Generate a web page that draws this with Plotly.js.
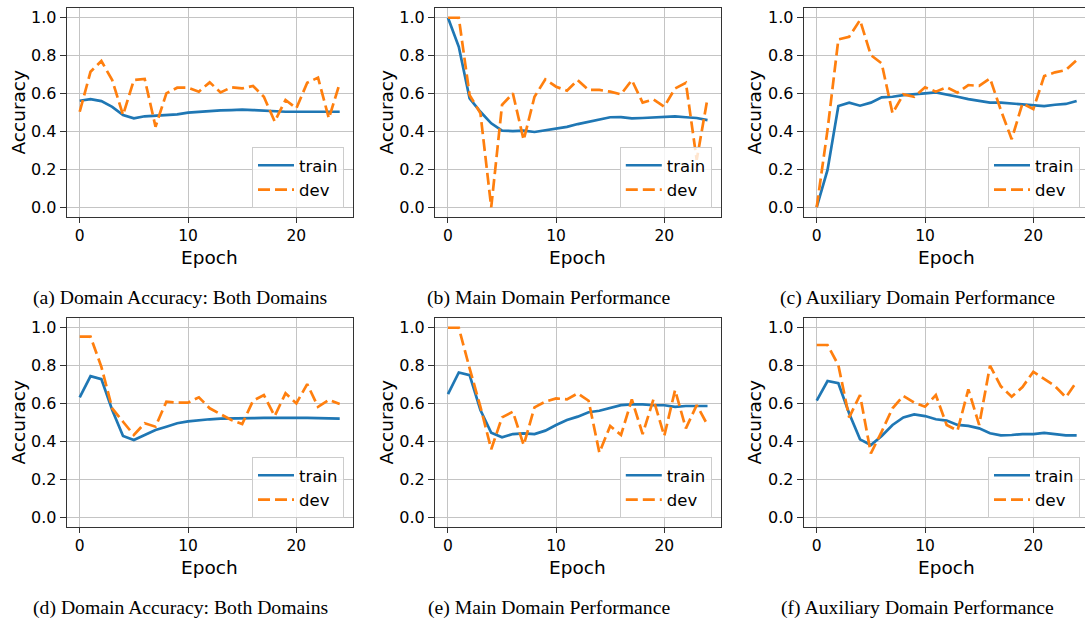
<!DOCTYPE html>
<html>
<head>
<meta charset="utf-8">
<script src="https://cdn.plot.ly/plotly-3.0.1.min.js"></script>
<style>
  html, body { margin: 0; padding: 0; background: #fff; overflow: hidden; }
  #chart { width: 1085px; height: 619px; }
</style>
</head>
<body>
<div id="chart"></div>
<script>
// ---------------- data ----------------
const epochs = [0,1,2,3,4,5,6,7,8,9,10,11,12,13,14,15,16,17,18,19,20,21,22,23,24];

const yTickVals = [0, 0.2, 0.4, 0.6, 0.8, 1.0];
const yTickText = ["0.0", "0.2", "0.4", "0.6", "0.8", "1.0"];
const xTickVals = [0, 10, 20];
const xTickText = ["0", "10", "20"];

const seriesNames = ["train", "dev"];

const captions = [
  "(a) Domain Accuracy: Both Domains",
  "(b) Main Domain Performance",
  "(c) Auxiliary Domain Performance",
  "(d) Domain Accuracy: Both Domains",
  "(e) Main Domain Performance",
  "(f) Auxiliary Domain Performance"
];

// (a) Domain Accuracy: Both Domains (top)
const trainA = [0.562,0.571,0.560,0.530,0.487,0.469,0.480,0.483,0.485,0.490,0.499,0.504,0.508,0.511,0.513,0.515,0.513,0.510,0.506,0.504,0.504,0.504,0.504,0.504,0.504];
const devA   = [0.504,0.715,0.772,0.671,0.487,0.671,0.677,0.425,0.601,0.631,0.631,0.610,0.659,0.606,0.633,0.627,0.640,0.583,0.452,0.566,0.522,0.657,0.684,0.469,0.654];

// (b) Main Domain Performance (top)
const trainB = [1.000,0.847,0.575,0.504,0.443,0.404,0.402,0.404,0.397,0.406,0.417,0.424,0.439,0.452,0.464,0.475,0.476,0.469,0.471,0.475,0.478,0.480,0.475,0.471,0.460];
const devB   = [1.000,1.000,0.592,0.496,0.000,0.540,0.601,0.355,0.583,0.675,0.636,0.615,0.671,0.619,0.619,0.610,0.596,0.671,0.552,0.569,0.531,0.627,0.657,0.250,0.575];

// (c) Auxiliary Domain Performance (top)
const trainC = [0.000,0.197,0.534,0.552,0.536,0.552,0.580,0.583,0.592,0.598,0.601,0.606,0.596,0.583,0.571,0.561,0.552,0.552,0.547,0.543,0.540,0.534,0.541,0.545,0.561];
const devC   = [0.000,0.408,0.886,0.900,0.988,0.803,0.759,0.496,0.596,0.583,0.633,0.610,0.633,0.605,0.645,0.640,0.680,0.513,0.359,0.548,0.518,0.692,0.712,0.724,0.777];

// (d) Domain Accuracy: Both Domains (bottom)
const trainD = [0.633,0.745,0.729,0.566,0.429,0.408,0.434,0.460,0.478,0.496,0.506,0.513,0.517,0.520,0.522,0.522,0.523,0.524,0.525,0.527,0.525,0.524,0.522,0.520,0.520];
const devD   = [0.953,0.953,0.794,0.575,0.504,0.434,0.496,0.478,0.610,0.605,0.605,0.633,0.575,0.545,0.513,0.492,0.615,0.645,0.534,0.654,0.601,0.703,0.583,0.619,0.598];

// (e) Main Domain Performance (bottom)
const trainE = [0.650,0.764,0.750,0.566,0.446,0.422,0.439,0.443,0.439,0.457,0.487,0.513,0.531,0.554,0.562,0.575,0.592,0.596,0.596,0.591,0.591,0.583,0.587,0.587,0.587];
const devE   = [1.000,1.000,0.786,0.583,0.359,0.527,0.557,0.381,0.580,0.610,0.627,0.622,0.654,0.615,0.341,0.482,0.434,0.622,0.439,0.622,0.429,0.671,0.469,0.592,0.487];

// (f) Auxiliary Domain Performance (bottom)
const trainF = [0.615,0.719,0.707,0.548,0.411,0.381,0.429,0.487,0.527,0.543,0.534,0.517,0.510,0.487,0.482,0.469,0.443,0.432,0.434,0.439,0.439,0.445,0.439,0.432,0.432];
const devF   = [0.909,0.909,0.803,0.527,0.645,0.337,0.452,0.575,0.640,0.605,0.583,0.645,0.487,0.457,0.675,0.487,0.800,0.691,0.636,0.687,0.768,0.729,0.692,0.633,0.715];

const panelTrain = [trainA, trainB, trainC, trainD, trainE, trainF];
const panelDev   = [devA, devB, devC, devD, devE, devF];

// ---------------- layout geometry ----------------
const W = 1085, H = 619;
const colPx = [[66.7, 352.7], [435.0, 720.5], [803.7, 1085.0]];
const colRangeMax = [25.2, 25.2, 24.77];
const rowPx = [[8.3, 216.7], [318.3, 526.7]];
const captionX = [180, 549, 917];
const captionY = [297, 607];
const epochTop = [244.5, 554.5];
const accX = [18, 386, 754];

const BLUE = "#1f77b4", ORANGE = "#ff7f0e";
const FONT = "DejaVu Sans, Verdana, sans-serif";
const SERIF = "Liberation Serif, Times New Roman, Times, serif";

const traces = [];
const layout = {
  width: W, height: H,
  margin: {l: 0, r: 0, t: 0, b: 0},
  paper_bgcolor: "#fff",
  plot_bgcolor: "#fff",
  showlegend: true,
  annotations: [],
  font: {family: FONT, color: "#000"}
};

for (let i = 0; i < 6; i++) {
  const r = Math.floor(i / 3), c = i % 3;
  const sfx = i === 0 ? "" : String(i + 1);
  const xa = "xaxis" + sfx, ya = "yaxis" + sfx;
  const legName = "legend" + sfx;
  const xd = [colPx[c][0] / W, colPx[c][1] / W];
  const yd = [1 - rowPx[r][1] / H, 1 - rowPx[r][0] / H];

  layout[xa] = {
    domain: xd, range: [-1.2, colRangeMax[c]], anchor: "y" + sfx,
    showgrid: true, gridcolor: "#c4c4c4", gridwidth: 1, zeroline: false,
    showline: true, linecolor: "#333", linewidth: 1, mirror: true,
    ticks: "outside", ticklen: 5, tickwidth: 1, tickcolor: "#333",
    tickvals: xTickVals, ticktext: xTickText,
    tickfont: {family: FONT, size: 15.5, color: "#000"},
    automargin: false, fixedrange: true
  };
  layout[ya] = {
    domain: yd, range: [-0.05, 1.05], anchor: "x" + sfx,
    showgrid: true, gridcolor: "#c4c4c4", gridwidth: 1, zeroline: false,
    showline: true, linecolor: "#333", linewidth: 1, mirror: c !== 2,
    ticks: "outside", ticklen: 6, tickwidth: 1, tickcolor: "#333",
    tickvals: yTickVals, ticktext: yTickText,
    tickfont: {family: FONT, size: 16, color: "#000"},
    automargin: false, fixedrange: true
  };

  layout[legName] = {
    x: (colPx[c][1] - (c === 2 ? 5 : 8.7)) / W,
    y: 1 - (rowPx[r][1] - 8.7) / H,
    xanchor: "right", yanchor: "bottom",
    bgcolor: "rgba(255,255,255,0.8)", bordercolor: "#cccccc", borderwidth: 1,
    font: {family: FONT, size: 16.5, color: "#000"},
    itemwidth: 36, tracegroupgap: 0, traceorder: "normal"
  };

  traces.push({
    x: epochs, y: panelTrain[i], type: "scatter", mode: "lines",
    name: seriesNames[0], xaxis: "x" + sfx, yaxis: "y" + sfx, legend: legName,
    line: {color: BLUE, width: 2.7}, hoverinfo: "skip"
  });
  traces.push({
    x: epochs, y: panelDev[i], type: "scatter", mode: "lines",
    name: seriesNames[1], xaxis: "x" + sfx, yaxis: "y" + sfx, legend: legName,
    line: {color: ORANGE, width: 2.7, dash: "12px,5px"}, hoverinfo: "skip"
  });

  // axis titles
  const xCenter = (colPx[c][0] + (c === 2 ? 1089 : colPx[c][1])) / 2;
  layout.annotations.push({
    text: "Epoch", xref: "paper", yref: "paper",
    x: xCenter / W, y: 1 - epochTop[r] / H, xanchor: "center", yanchor: "top",
    showarrow: false, font: {family: FONT, size: 18.5, color: "#000"}
  });
  layout.annotations.push({
    text: "Accuracy", xref: "paper", yref: "paper", textangle: -90,
    x: accX[c] / W, y: 1 - ((rowPx[r][0] + rowPx[r][1]) / 2) / H,
    xanchor: "center", yanchor: "middle",
    showarrow: false, font: {family: FONT, size: 18.5, color: "#000"}
  });
  // caption
  layout.annotations.push({
    text: captions[i], xref: "paper", yref: "paper",
    x: captionX[c] / W, y: 1 - captionY[r] / H, xanchor: "center", yanchor: "middle",
    showarrow: false, font: {family: SERIF, size: 19.7, color: "#000"}
  });
}

Plotly.newPlot("chart", traces, layout, {staticPlot: true, displayModeBar: false});
</script>
</body>
</html>
